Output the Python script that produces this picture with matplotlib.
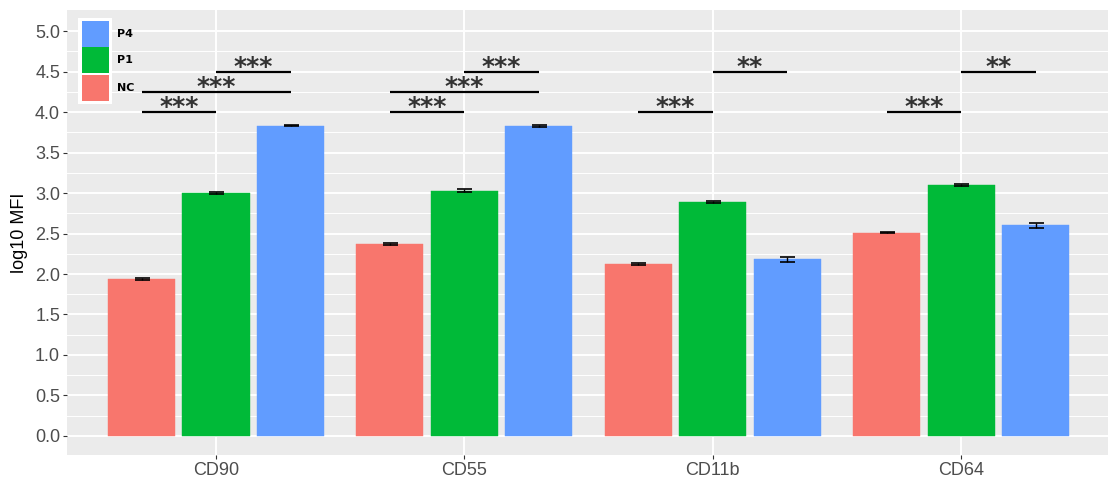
import numpy as np
import matplotlib
matplotlib.use("Agg")
import matplotlib.pyplot as plt
from matplotlib.patches import Rectangle

markers_cd = ["CD90", "CD55", "CD11b", "CD64"]
groups = ["NC", "P1", "P4"]
nc_mean = [1.94, 2.37, 2.12, 2.51]
p1_mean = [3.00, 3.03, 2.89, 3.10]
p4_mean = [3.83, 3.83, 2.18, 2.60]
nc_err = [0.012, 0.015, 0.012, 0.008]
p1_err = [0.010, 0.015, 0.015, 0.015]
p4_err = [0.008, 0.010, 0.035, 0.030]

# significance brackets: marker index, group a, group b, height, label
sig_marker = [0, 0, 0, 1, 1, 1, 2, 2, 3, 3]
sig_a = [0, 0, 1, 0, 0, 1, 0, 1, 0, 1]
sig_b = [1, 2, 2, 1, 2, 2, 1, 2, 1, 2]
sig_y = [4.0, 4.25, 4.5, 4.0, 4.25, 4.5, 4.0, 4.5, 4.0, 4.5]
sig_label = ["***", "***", "***", "***", "***", "***", "***", "**", "***", "**"]

colors = {"NC": "#F8766D", "P1": "#00BA38", "P4": "#619CFF"}
means = {"NC": nc_mean, "P1": p1_mean, "P4": p4_mean}
errs = {"NC": nc_err, "P1": p1_err, "P4": p4_err}

W, H = 1108, 482
fig = plt.figure(figsize=(W / 100, H / 100), dpi=100)
ax = fig.add_axes([67 / W, 1 - 455 / H, (W - 67) / W, 445 / H])
ax.set_facecolor("#EBEBEB")

x = np.arange(len(markers_cd))
dodge = 0.3
width = 0.27
for i, g in enumerate(groups):
    xs = x + (i - 1) * dodge
    ax.bar(xs, means[g], width, color=colors[g], edgecolor=colors[g],
           linewidth=0.3, zorder=3)
    ax.errorbar(xs, means[g], yerr=errs[g], fmt="none", ecolor="black",
                elinewidth=1.0, capsize=5.4, capthick=1.2, zorder=4)

for m, a, b, yy, lab in zip(sig_marker, sig_a, sig_b, sig_y, sig_label):
    x0 = x[m] + (a - 1) * dodge
    x1 = x[m] + (b - 1) * dodge
    ax.plot([x0, x1], [yy, yy], color="black", lw=1.6, zorder=5,
            solid_capstyle="butt")
    ax.text((x0 + x1) / 2, yy - 0.03, lab, ha="center", va="baseline",
            fontsize=18, fontweight="bold", color="#333333", zorder=6)

ax.set_xlim(-0.6, 3 + 147 / 248.5)
ax.set_ylim(-0.235, 5.26)
ax.set_yticks(np.arange(0, 5.01, 0.5))
ax.set_yticks(np.arange(0.25, 5.2, 0.5), minor=True)
ax.set_yticklabels([f"{v:.1f}" for v in np.arange(0, 5.01, 0.5)])
ax.set_xticks(x)
ax.set_xticklabels(markers_cd)
ax.grid(which="major", color="white", lw=1.4, zorder=0)
ax.grid(which="minor", axis="y", color="white", lw=0.7, zorder=0)
ax.set_axisbelow(True)
for s in ax.spines.values():
    s.set_visible(False)
ax.tick_params(axis="both", which="major", length=3, color="#333333",
               labelcolor="#4D4D4D", labelsize=13, pad=2,
               labelfontfamily="Liberation Sans")
ax.tick_params(axis="y", which="minor", length=0)
ax.set_ylabel("log10 MFI", fontsize=13, family="Liberation Sans", labelpad=5)

# legend drawn inside the panel (white key background, bold labels)
lg_ax = fig.add_axes([0, 0, 1, 1], facecolor="none")
lg_ax.set_xlim(0, W)
lg_ax.set_ylim(H, 0)
lg_ax.axis("off")
lg_ax.add_patch(Rectangle((78, 18), 34, 86, facecolor="white", edgecolor="none"))
key_top = [21, 47, 75]
for g, kt in zip(["P4", "P1", "NC"], key_top):
    lg_ax.add_patch(Rectangle((82, kt), 27, 26, facecolor=colors[g],
                              edgecolor="none"))
    lg_ax.text(117, kt + 13, g, fontsize=8, fontweight="bold", va="center",
               ha="left", color="black")

fig.savefig("out.png", dpi=100)
